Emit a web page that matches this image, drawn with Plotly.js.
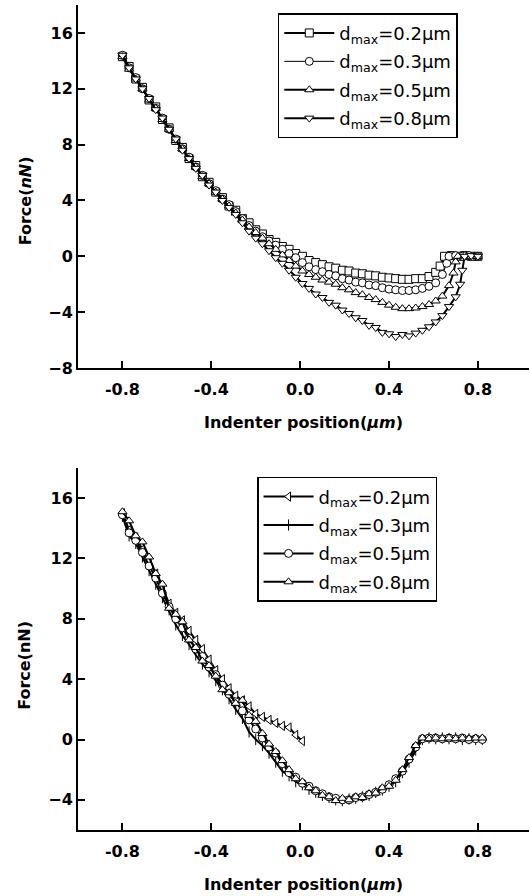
<!DOCTYPE html>
<html>
<head>
<meta charset="utf-8">
<script src="https://cdn.plot.ly/plotly-3.0.1.min.js"></script>
<style>html,body{margin:0;padding:0;background:#fff;}#chart{width:529px;height:896px;}</style>
</head>
<body>
<div id="chart"></div>
<script>
// ---------- Top panel data ----------
var seriesNames = ["d<sub>max</sub>=0.2\u03bcm", "d<sub>max</sub>=0.3\u03bcm", "d<sub>max</sub>=0.5\u03bcm", "d<sub>max</sub>=0.8\u03bcm"];

var topX02 = [-0.80,-0.77,-0.74,-0.71,-0.68,-0.65,-0.62,-0.59,-0.56,-0.53,-0.50,-0.47,-0.44,-0.41,-0.38,-0.35,-0.32,-0.29,-0.26,-0.23,-0.20,-0.17,-0.14,-0.11,-0.08,-0.05,-0.02,0.01,0.04,0.07,0.10,0.13,0.16,0.19,0.22,0.25,0.28,0.31,0.34,0.37,0.40,0.43,0.46,0.49,0.52,0.55,0.58,0.61,0.63,0.65,0.68,0.71,0.74,0.77,0.80];
var topY02 = [14.3,13.6,12.7,12.1,11.2,10.7,9.8,9.2,8.3,7.8,7.0,6.5,5.7,5.3,4.6,4.2,3.6,3.3,2.7,2.4,1.9,1.6,1.2,1.0,0.7,0.5,0.2,0.0,-0.3,-0.45,-0.6,-0.75,-0.85,-1.0,-1.05,-1.2,-1.25,-1.35,-1.4,-1.5,-1.55,-1.6,-1.65,-1.65,-1.6,-1.6,-1.45,-1.15,-0.7,0.0,0.05,0.0,0.05,0.0,0.0];

var topX03 = [-0.80,-0.77,-0.74,-0.71,-0.68,-0.65,-0.62,-0.59,-0.56,-0.53,-0.50,-0.47,-0.44,-0.41,-0.38,-0.35,-0.32,-0.29,-0.26,-0.23,-0.20,-0.17,-0.14,-0.11,-0.08,-0.05,-0.02,0.01,0.04,0.07,0.10,0.13,0.16,0.19,0.22,0.25,0.28,0.31,0.34,0.37,0.40,0.43,0.46,0.49,0.52,0.55,0.58,0.61,0.64,0.66,0.67,0.70,0.73,0.76,0.80];
var topY03 = [14.4,13.5,12.8,12.0,11.3,10.6,9.9,9.1,8.4,7.7,7.1,6.4,5.8,5.2,4.7,4.1,3.7,3.2,2.7,2.2,1.8,1.4,1.1,0.8,0.5,0.2,-0.1,-0.45,-0.75,-0.95,-1.1,-1.3,-1.4,-1.6,-1.7,-1.85,-1.9,-2.05,-2.1,-2.25,-2.35,-2.4,-2.45,-2.45,-2.4,-2.3,-2.15,-1.9,-1.3,-0.5,0.0,0.05,0.0,0.05,0.0];

var topX05 = [-0.80,-0.77,-0.74,-0.71,-0.68,-0.65,-0.62,-0.59,-0.56,-0.53,-0.50,-0.47,-0.44,-0.41,-0.38,-0.35,-0.32,-0.29,-0.26,-0.23,-0.20,-0.17,-0.14,-0.11,-0.08,-0.05,-0.02,0.01,0.04,0.07,0.10,0.13,0.16,0.19,0.22,0.25,0.28,0.31,0.34,0.37,0.40,0.43,0.46,0.49,0.52,0.55,0.58,0.61,0.64,0.67,0.69,0.70,0.71,0.74,0.77,0.80];
var topY05 = [14.3,13.4,12.7,12.0,11.2,10.6,9.8,9.1,8.3,7.7,7.0,6.4,5.7,5.2,4.6,4.1,3.6,3.1,2.6,2.1,1.7,1.3,0.9,0.5,0.1,-0.3,-0.7,-1.05,-1.3,-1.5,-1.7,-1.85,-2.0,-2.25,-2.4,-2.6,-2.75,-2.95,-3.1,-3.3,-3.5,-3.65,-3.75,-3.75,-3.7,-3.6,-3.45,-3.2,-2.85,-2.1,-1.2,-0.4,0.0,0.05,0.0,0.0];

var topX08 = [-0.80,-0.77,-0.74,-0.71,-0.68,-0.65,-0.62,-0.59,-0.56,-0.53,-0.50,-0.47,-0.44,-0.41,-0.38,-0.35,-0.32,-0.29,-0.26,-0.23,-0.20,-0.17,-0.14,-0.11,-0.08,-0.05,-0.02,0.01,0.04,0.07,0.10,0.13,0.16,0.19,0.22,0.25,0.28,0.31,0.34,0.37,0.40,0.43,0.46,0.49,0.52,0.55,0.58,0.61,0.64,0.67,0.70,0.72,0.73,0.74,0.77,0.80];
var topY08 = [14.4,13.5,12.7,12.0,11.3,10.5,9.9,9.1,8.4,7.6,7.0,6.3,5.8,5.1,4.6,4.0,3.5,3.0,2.4,1.8,1.3,0.9,0.4,-0.1,-0.5,-1.0,-1.5,-1.95,-2.3,-2.7,-2.95,-3.3,-3.5,-3.85,-4.1,-4.4,-4.6,-4.95,-5.1,-5.45,-5.55,-5.75,-5.6,-5.7,-5.5,-5.3,-5.05,-4.7,-4.25,-3.6,-2.9,-2.0,-1.0,0.0,0.05,0.0];

// ---------- Bottom panel data ----------
var botX02 = [-0.80,-0.77,-0.74,-0.71,-0.68,-0.65,-0.62,-0.59,-0.56,-0.53,-0.50,-0.47,-0.44,-0.41,-0.38,-0.35,-0.32,-0.29,-0.26,-0.23,-0.20,-0.17,-0.14,-0.11,-0.08,-0.05,-0.02,0.01];
var botY02 = [15.0,13.9,13.4,12.6,11.9,11.0,10.1,9.0,8.4,7.9,7.2,6.6,6.0,5.3,4.6,4.0,3.4,2.9,2.6,2.2,1.7,1.5,1.3,1.1,0.9,0.8,0.3,-0.1];

var botX = [-0.80,-0.77,-0.74,-0.71,-0.68,-0.65,-0.62,-0.59,-0.56,-0.53,-0.50,-0.47,-0.44,-0.41,-0.38,-0.35,-0.32,-0.29,-0.26,-0.23,-0.20,-0.17,-0.14,-0.11,-0.08,-0.05,-0.02,0.01,0.04,0.07,0.10,0.13,0.16,0.19,0.22,0.25,0.28,0.31,0.34,0.37,0.40,0.43,0.46,0.49,0.52,0.55,0.58,0.61,0.64,0.67,0.70,0.73,0.76,0.79,0.82];
var botY03 = [14.8,13.5,13.0,12.1,11.2,10.3,9.4,8.6,7.6,6.9,6.3,5.6,5.0,4.5,3.9,3.3,2.7,2.0,1.4,0.5,0.0,-0.4,-0.9,-1.5,-2.1,-2.4,-2.8,-3.0,-3.3,-3.5,-3.7,-3.85,-4.0,-4.05,-3.95,-3.9,-3.8,-3.7,-3.5,-3.35,-3.1,-2.8,-2.2,-1.5,-0.7,0.0,0.1,0.05,0.1,0.05,0.1,0.0,0.05,0.0,0.0];
var botY05 = [14.9,13.7,13.2,12.4,11.5,10.7,9.7,8.8,8.0,7.4,6.7,6.0,5.5,4.8,4.3,3.6,3.0,2.5,1.9,1.3,0.7,0.1,-0.5,-0.9,-1.6,-2.2,-2.5,-2.9,-3.1,-3.4,-3.6,-3.8,-3.9,-4.0,-4.0,-3.85,-3.8,-3.65,-3.5,-3.3,-3.0,-2.6,-2.1,-1.3,-0.5,0.05,0.1,0.1,0.05,0.1,0.05,0.1,0.0,0.05,0.0];
var botY08 = [15.1,14.5,13.5,13.1,12.1,11.0,10.3,8.7,8.3,7.8,6.6,6.1,5.2,4.9,4.2,3.3,3.1,2.4,2.6,1.6,1.2,0.4,-0.3,-0.8,-1.4,-2.0,-2.6,-2.8,-3.2,-3.4,-3.7,-3.8,-4.05,-3.9,-4.0,-3.8,-3.85,-3.6,-3.55,-3.2,-3.1,-2.7,-2.0,-1.2,-0.4,0.1,0.05,0.1,0.05,0.1,0.05,0.1,0.05,0.1,0.1];

var xTicks = [-0.8, -0.4, 0.0, 0.4, 0.8];
var xTickText = ["-0.8", "-0.4", "0.0", "0.4", "0.8"];
var yTicksTop = [-8, -4, 0, 4, 8, 12, 16];
var yTicksBot = [-4, 0, 4, 8, 12, 16];

function mk(x, y, name, symbol, lw, leg, xa, ya, grp, mcolor) {
  return {
    x: x, y: y, name: name, type: 'scatter', mode: 'lines+markers',
    xaxis: xa, yaxis: ya, legend: leg, legendgroup: grp,
    line: {color: '#000', width: lw},
    marker: {symbol: symbol, size: 8, color: mcolor || '#fff', line: {color: '#000', width: 1}}
  };
}

var data = [
  mk(topX02, topY02, seriesNames[0], 'square', 2, 'legend', 'x', 'y', 't1'),
  mk(topX03, topY03, seriesNames[1], 'circle', 1, 'legend', 'x', 'y', 't2'),
  mk(topX05, topY05, seriesNames[2], 'triangle-up', 2, 'legend', 'x', 'y', 't3'),
  mk(topX08, topY08, seriesNames[3], 'triangle-down', 2, 'legend', 'x', 'y', 't4'),
  mk(botX02, botY02, seriesNames[0], 'triangle-left', 2, 'legend2', 'x2', 'y2', 'b1'),
  mk(botX, botY03, seriesNames[1], 'line-ns', 2, 'legend2', 'x2', 'y2', 'b2', '#000'),
  mk(botX, botY05, seriesNames[2], 'circle', 2, 'legend2', 'x2', 'y2', 'b3'),
  mk(botX, botY08, seriesNames[3], 'triangle-up', 2, 'legend2', 'x2', 'y2', 'b4')
];

var tickFont = {family: 'DejaVu Sans', size: 16, weight: 'bold', color: '#000'};
var titleFont = {family: 'DejaVu Sans', size: 16, weight: 'bold', color: '#000'};

function xax(anchor) {
  return {
    anchor: anchor, range: [-1.0, 1.03], tickvals: xTicks, ticktext: xTickText,
    showline: true, linewidth: 2, linecolor: '#000', ticks: 'inside', ticklen: 7, tickwidth: 2, tickcolor: '#000',
    showgrid: false, zeroline: false, tickfont: tickFont, ticklabelstandoff: 6,
    title: {text: 'Indenter position(<i>\u03bcm</i>)', font: titleFont, standoff: 19}
  };
}
function yax(anchor, range, ticks, domain) {
  return {
    anchor: anchor, range: range, tickvals: ticks, domain: domain,
    showline: true, linewidth: 2, linecolor: '#000', ticks: 'inside', ticklen: 7, tickwidth: 2, tickcolor: '#000',
    showgrid: false, zeroline: false, tickfont: tickFont
  };
}

var legendBase = {
  bgcolor: '#fff', bordercolor: '#000', borderwidth: 1.5,
  font: {family: 'DejaVu Sans', size: 18, color: '#000'},
  xanchor: 'left', yanchor: 'top', tracegroupgap: 2, itemwidth: 50
};

var layout = {
  width: 529, height: 896,
  margin: {l: 78, r: 0, t: 5, b: 66},
  paper_bgcolor: '#fff', plot_bgcolor: '#fff',
  showlegend: true,
  xaxis: xax('y'),
  yaxis: yax('x', [-8, 18], yTicksTop, [0.56, 1]),
  xaxis2: xax('y2'),
  yaxis2: yax('x2', [-6, 18], yTicksBot, [0, 0.4388]),
  legend: Object.assign({}, legendBase, {x: 0.443, y: 0.99}),
  legend2: Object.assign({}, legendBase, {x: 0.397, y: 0.428}),
  annotations: [
    {text: 'Force(<i>nN</i>)', xref: 'paper', yref: 'paper', x: -0.1175, y: 0.762, textangle: -90,
     showarrow: false, font: titleFont, xanchor: 'center', yanchor: 'middle'},
    {text: 'Force(nN)', xref: 'paper', yref: 'paper', x: -0.1175, y: 0.199, textangle: -90,
     showarrow: false, font: titleFont, xanchor: 'center', yanchor: 'middle'}
  ]
};

Plotly.newPlot('chart', data, layout, {displayModeBar: false, staticPlot: true});
</script>
</body>
</html>
